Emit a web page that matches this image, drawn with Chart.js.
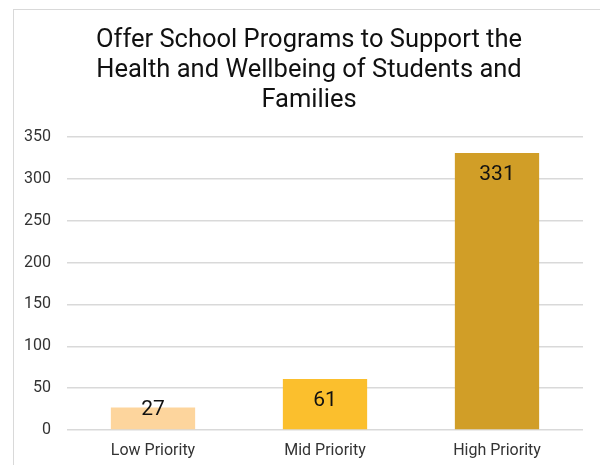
<!DOCTYPE html>
<html>
<head>
<meta charset="utf-8">
<script src="https://cdn.jsdelivr.net/npm/chart.js@4/dist/chart.umd.min.js"></script>
<style>
  html, body { margin: 0; padding: 0; background: #fff; }
  #wrap { position: relative; width: 600px; height: 465px; }
  #frame { position: absolute; left: 13px; top: 9px; right: -2px; bottom: -2px; border-left: 1px solid #d9d9d9; border-top: 1px solid #d9d9d9; }
  canvas { position: absolute; left: 0; top: 0; }
</style>
</head>
<body>
<div id="wrap">
  <div id="frame"></div>
  <canvas id="myChart" width="600" height="465"></canvas>
</div>
<script>
const categories = ['Low Priority', 'Mid Priority', 'High Priority']
const counts = [27, 61, 331]
const barColors = ['#fdd59d', '#fbbf2d', '#d19e27']
const titleLines = ['Offer School Programs to Support the', 'Health and Wellbeing of Students and', 'Families']

// title sits a bit left of the plot centre, so it is drawn here
const chartTitle = {
    id: 'chartTitle',
    afterDraw(chart) {
        const ctx = chart.ctx
        ctx.save()
        ctx.font = '25.5px Roboto'
        ctx.fillStyle = '#111'
        ctx.textAlign = 'center'
        ctx.textBaseline = 'alphabetic'
        titleLines.forEach((line, i) => {
            ctx.fillText(line, 309, 47 + i * 30)
        })
        ctx.restore()
    }
}

// value labels drawn just inside the top of each bar
const valueLabels = {
    id: 'valueLabels',
    afterDatasetsDraw(chart) {
        const ctx = chart.ctx
        const meta = chart.getDatasetMeta(0)
        ctx.save()
        ctx.font = '21px Roboto'
        ctx.fillStyle = '#111'
        ctx.textAlign = 'center'
        ctx.textBaseline = 'alphabetic'
        meta.data.forEach((bar, i) => {
            const y = Math.min(bar.y + 27, chart.chartArea.bottom - 15)
            ctx.fillText(String(counts[i]), bar.x, y)
        })
        ctx.restore()
    }
}

const ctx = document.getElementById('myChart').getContext('2d')

new Chart(ctx, {
    type: 'bar',
    data: {
        labels: categories,
        datasets: [{
            data: counts,
            backgroundColor: barColors,
            barPercentage: 0.98,
            categoryPercentage: 0.5
        }]
    },
    options: {
        responsive: false,
        animation: false,
        layout: { padding: { left: 14, right: 17, top: 137, bottom: 0 } },
        plugins: {
            legend: { display: false },
            tooltip: { enabled: false },
            title: { display: false }
        },
        scales: {
            x: {
                afterFit(scale) { scale.height = 35 },
                grid: { display: false, drawTicks: false },
                border: { display: false },
                ticks: { color: '#333', font: { family: 'Roboto', size: 16 }, padding: 11 }
            },
            y: {
                min: 0,
                max: 350,
                afterFit(scale) { scale.width = 53 },
                grid: { color: '#d9d9d9', lineWidth: 1.5, drawTicks: false },
                border: { display: false },
                ticks: { stepSize: 50, color: '#333', font: { family: 'Roboto', size: 16 }, padding: 16 }
            }
        }
    },
    plugins: [valueLabels, chartTitle]
})
</script>
</body>
</html>
